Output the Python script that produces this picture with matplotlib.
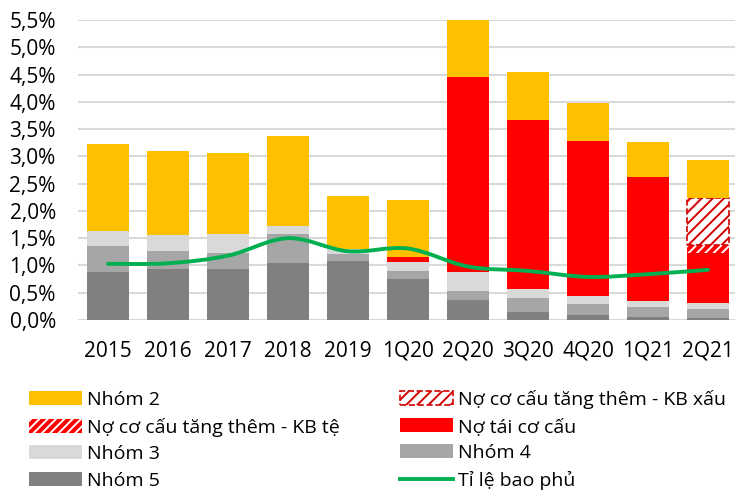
import matplotlib
matplotlib.use("Agg")
import matplotlib.pyplot as plt
import numpy as np
from matplotlib.path import Path
from matplotlib.patches import PathPatch
from matplotlib.lines import Line2D
from matplotlib.ticker import FuncFormatter

plt.rcParams['font.family'] = ['Open Sans', 'DejaVu Sans']

# data (% of loans)
categories = ['2015', '2016', '2017', '2018', '2019', '1Q20', '2Q20', '3Q20', '4Q20', '1Q21', '2Q21']
nhom5 = [0.88, 0.94, 0.94, 1.04, 1.08, 0.76, 0.37, 0.15, 0.09, 0.05, 0.03]
nhom4 = [0.48, 0.33, 0.28, 0.54, 0.13, 0.13, 0.17, 0.26, 0.20, 0.18, 0.17]
nhom3 = [0.27, 0.28, 0.36, 0.14, 0.09, 0.17, 0.34, 0.16, 0.15, 0.12, 0.12]
no_tai_co_cau = [0, 0, 0, 0, 0, 0.10, 3.58, 3.09, 2.84, 2.27, 0.90]
kb_te = [0, 0, 0, 0, 0, 0, 0, 0, 0, 0, 0.16]
kb_xau = [0, 0, 0, 0, 0, 0, 0, 0, 0, 0, 0.85]
nhom2 = [1.60, 1.55, 1.48, 1.66, 0.98, 1.04, 1.04, 0.88, 0.69, 0.65, 0.71]
ti_le_bao_phu = [1.03, 1.04, 1.18, 1.50, 1.26, 1.31, 0.98, 0.90, 0.79, 0.84, 0.92]

fig = plt.figure(figsize=(7.35, 4.93), dpi=100)
ax = fig.add_axes([78 / 735, 173 / 493, 657 / 735, 300 / 493])

x = np.arange(len(categories))
w = 0.7
bottom = np.zeros(len(x))

b5 = ax.bar(x, nhom5, w, bottom=bottom, color='#808080', linewidth=0)
bottom += nhom5
b4 = ax.bar(x, nhom4, w, bottom=bottom, color='#a6a6a6', linewidth=0)
bottom += nhom4
b3 = ax.bar(x, nhom3, w, bottom=bottom, color='#d9d9d9', linewidth=0)
bottom += nhom3
btc = ax.bar(x, no_tai_co_cau, w, bottom=bottom, color='#ff0000', linewidth=0)
bottom += no_tai_co_cau

# hatched segments only where they exist
plt.rcParams['hatch.linewidth'] = 1.4
idx = [i for i, v in enumerate(kb_te) if v > 0]
bte = ax.bar(x[idx], [kb_te[i] for i in idx], w, bottom=bottom[idx],
             facecolor='#ff0000', edgecolor='white', linewidth=0, hatch='////')
bottom += kb_te
idx = [i for i, v in enumerate(kb_xau) if v > 0]
bxau = ax.bar(x[idx], [kb_xau[i] for i in idx], w, bottom=bottom[idx],
              facecolor='white', edgecolor='#d40000', linewidth=1.2, linestyle='--',
              hatch='///')
bottom += kb_xau
b2 = ax.bar(x, nhom2, w, bottom=bottom, color='#ffc000', linewidth=0)

# smoothed coverage line (Excel-style bezier through the points)
pts = np.column_stack([x, ti_le_bao_phu]).astype(float)
n = len(pts)
verts = [tuple(pts[0])]
codes = [Path.MOVETO]
for i in range(n - 1):
    p0 = pts[i - 1] if i > 0 else pts[i]
    p3 = pts[i + 2] if i + 2 < n else pts[i + 1]
    c1 = pts[i] + (pts[i + 1] - p0) / 6
    c2 = pts[i + 1] - (p3 - pts[i]) / 6
    verts += [tuple(c1), tuple(c2), tuple(pts[i + 1])]
    codes += [Path.CURVE4] * 3
ax.add_patch(PathPatch(Path(verts, codes), fill=False, edgecolor='#00b050',
                       linewidth=2.8, capstyle='round', zorder=5))

ax.set_xlim(-0.5, 10.45)
ax.set_ylim(0, 5.5)
ax.set_yticks(np.arange(0, 5.51, 0.5))
ax.yaxis.set_major_formatter(FuncFormatter(lambda v, p: f"{v:.1f}%".replace('.', ',')))
ax.set_xticks(x)
ax.set_xticklabels(categories)
ax.tick_params(axis='both', length=0, labelsize=15, colors='black')
ax.tick_params(axis='y', pad=16)
ax.tick_params(axis='x', pad=15)
ax.yaxis.grid(True, color='#d9d9d9', linewidth=1.5)
ax.set_axisbelow(True)
for s in ax.spines.values():
    s.set_visible(False)

line_handle = Line2D([], [], color='#00b050', linewidth=2.8)
handles = [b2, bte, b3, b5, bxau, btc, b4, line_handle]
labels = ['Nhóm 2', 'Nợ cơ cấu tăng thêm - KB tệ', 'Nhóm 3', 'Nhóm 5',
          'Nợ cơ cấu tăng thêm - KB xấu', 'Nợ tái cơ cấu', 'Nhóm 4', 'Tỉ lệ bao phủ']
fig.legend(handles, labels, ncol=2, loc='upper left',
           bbox_to_anchor=(29 / 735, 1 - 390 / 493), frameon=False, fontsize=14,
           handlelength=2.73, handleheight=0.72, handletextpad=0.26,
           columnspacing=3.1, labelspacing=0.44, borderpad=0, borderaxespad=0)

fig.savefig('out.png', dpi=100)
